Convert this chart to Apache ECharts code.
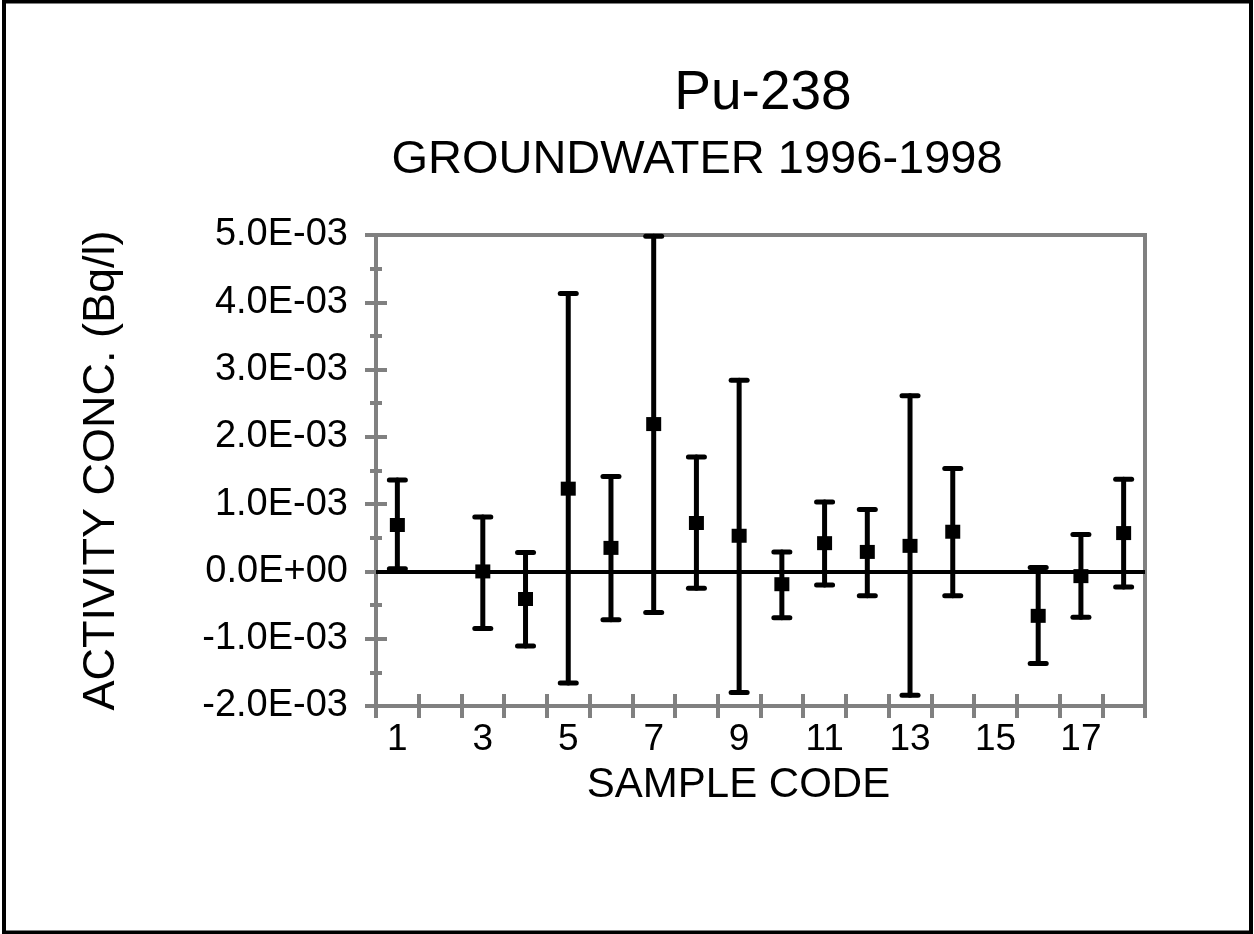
<!DOCTYPE html>
<html>
<head>
<meta charset="utf-8">
<title>Pu-238 groundwater</title>
<script src="https://cdn.jsdelivr.net/npm/echarts@6/dist/echarts.min.js"></script>
<style>
    html, body { margin: 0; padding: 0; background: #fff; }
    #chart { width: 1254px; height: 934px; }
</style>
</head>
<body>
<div id="chart"></div>
<script>
// sample codes on the category axis
const sampleCodes = ["1", "2", "3", "4", "5", "6", "7", "8", "9", "10", "11", "12", "13", "14", "15", "16", "17", "18"];

// activity concentration (Bq/l), null = no measurement
const activity = [
    0.00069, null, 0.0, -0.00041, 0.00123, 0.00035, 0.00219, 0.00072, 0.00053,
    -0.00019, 0.00042, 0.00029, 0.00038, 0.00059, null, -0.00066, -0.00007, 0.00057,
];
const errLow = [
    0.00004, null, -0.00085, -0.00111, -0.00166, -0.00072, -0.00061, -0.00025, -0.0018,
    -0.00069, -0.0002, -0.00036, -0.00184, -0.00036, null, -0.00137, -0.00068, -0.00023,
];
const errHigh = [
    0.00136, null, 0.00081, 0.00028, 0.00413, 0.00141, 0.00498, 0.0017, 0.00284,
    0.00029, 0.00103, 0.00092, 0.00261, 0.00153, null, 0.00006, 0.00055, 0.00137,
];

const gray = "#808080";
const font = "'Liberation Sans', Arial, sans-serif";

const pointData = [];
const errorData = [];
activity.forEach((v, i) => {
    if (v === null) return;
    pointData.push([i, v]);
    errorData.push([i, errLow[i], errHigh[i]]);
});

const sciLabel = (value) => {
    const s = Number(value).toExponential(1).toUpperCase();
    const [mant, exp] = s.split("E");
    const sign = exp[0] === "-" ? "-" : "+";
    const digits = exp.replace(/[+-]/, "").padStart(2, "0");
    return mant + "E" + sign + digits;
};

const renderErrorBar = (params, api) => {
    const x = api.value(0);
    const top = api.coord([x, api.value(2)]);
    const bottom = api.coord([x, api.value(1)]);
    const half = 8;
    const style = { stroke: "#000", lineWidth: 5, lineCap: "round" };
    return {
        type: "group",
        children: [
            { type: "line", shape: { x1: top[0], y1: top[1], x2: bottom[0], y2: bottom[1] }, style },
            { type: "line", shape: { x1: top[0] - half, y1: top[1], x2: top[0] + half, y2: top[1] }, style },
            { type: "line", shape: { x1: bottom[0] - half, y1: bottom[1], x2: bottom[0] + half, y2: bottom[1] }, style },
        ],
    };
};

const tickStyle = { color: gray, width: 4 };

const chart = echarts.init(document.getElementById("chart"), null, { renderer: "canvas" });

chart.setOption({
    animation: false,
    backgroundColor: "#fff",
    textStyle: { fontFamily: font },
    title: [
        {
            text: "Pu-238",
            left: 758,
            top: 61,
            textAlign: "center",
            textStyle: { fontFamily: font, fontSize: 55, fontWeight: "normal", color: "#000" },
        },
        {
            text: "GROUNDWATER 1996-1998",
            left: 692,
            top: 132,
            textAlign: "center",
            textStyle: { fontFamily: font, fontSize: 47, fontWeight: "normal", color: "#000" },
        },
    ],
    graphic: [
        {
            type: "rect",
            shape: { x: 4, y: 1.5, width: 1247, height: 931 },
            style: { fill: "none", stroke: "#000", lineWidth: 4 },
            silent: true,
        },
    ],
    grid: {
        left: 376,
        top: 235,
        right: 109,
        bottom: 228,
        show: true,
        borderColor: gray,
        borderWidth: 4,
    },
    xAxis: [
        {
            type: "category",
            data: sampleCodes,
            boundaryGap: true,
            name: "SAMPLE CODE",
            nameLocation: "middle",
            nameGap: 58,
            nameTextStyle: { fontFamily: font, fontSize: 42, color: "#000", padding: [0, 44, 0, 0] },
            axisLine: { show: true, onZero: false, lineStyle: { color: gray, width: 4 } },
            axisTick: { show: true, interval: 0, inside: false, length: 12, lineStyle: tickStyle },
            axisLabel: { interval: 1, margin: 15, fontFamily: font, fontSize: 37, color: "#000" },
            splitLine: { show: false },
        },
        {
            type: "category",
            data: sampleCodes,
            boundaryGap: true,
            position: "bottom",
            axisLine: { show: false, onZero: false },
            axisTick: { show: true, interval: 0, inside: true, length: 12, lineStyle: tickStyle },
            axisLabel: { show: false },
            splitLine: { show: false },
        },
    ],
    yAxis: [
        {
            type: "value",
            min: -0.002,
            max: 0.005,
            interval: 0.001,
            name: "ACTIVITY CONC. (Bq/l)",
            nameLocation: "middle",
            nameRotate: 90,
            nameGap: 252,
            nameTextStyle: { fontFamily: font, fontSize: 45, color: "#000" },
            axisLine: { show: true, onZero: false, lineStyle: { color: gray, width: 4 } },
            axisTick: { show: true, inside: false, length: 11, lineStyle: tickStyle },
            minorTick: { show: true, splitNumber: 2, length: 6, lineStyle: tickStyle },
            axisLabel: { margin: 28, fontFamily: font, fontSize: 38, color: "#000", formatter: sciLabel },
            splitLine: { show: false },
        },
        {
            type: "value",
            min: -0.002,
            max: 0.005,
            interval: 0.001,
            position: "left",
            axisLine: { show: false, onZero: false },
            axisTick: { show: true, inside: true, length: 11, lineStyle: tickStyle },
            minorTick: { show: true, splitNumber: 2, length: 6, lineStyle: tickStyle },
            axisLabel: { show: false },
            splitLine: { show: false },
        },
    ],
    series: [
        {
            name: "zero",
            type: "line",
            data: [],
            markLine: {
                silent: true,
                symbol: "none",
                label: { show: false },
                lineStyle: { color: "#000", width: 4, type: "solid" },
                data: [{ yAxis: 0 }],
            },
        },
        {
            name: "error",
            type: "custom",
            renderItem: renderErrorBar,
            data: errorData,
            z: 3,
        },
        {
            name: "Pu-238",
            type: "scatter",
            symbol: "rect",
            symbolSize: [15, 14],
            itemStyle: { color: "#000", opacity: 1 },
            data: pointData,
            z: 4,
        },
    ],
});
</script>
</body>
</html>
